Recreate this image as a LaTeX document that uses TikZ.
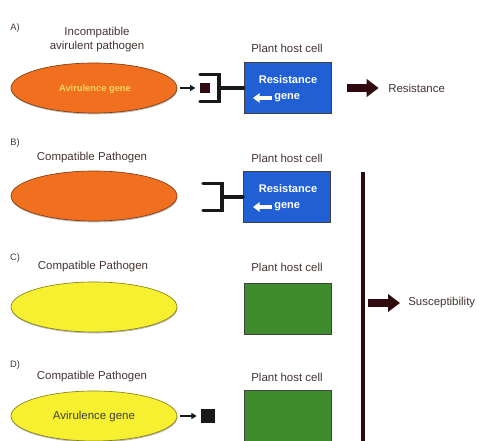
\documentclass[tikz,border=0pt]{standalone}
\usepackage{fontspec}
\setmainfont{Liberation Sans}
\usetikzlibrary{arrows.meta,calc,shapes.geometric,shadows}
\definecolor{pathO}{RGB}{240,112,32}
\definecolor{pathY}{RGB}{246,240,48}
\definecolor{hostB}{RGB}{32,96,212}
\definecolor{hostG}{RGB}{62,140,44}
\definecolor{labT}{RGB}{70,52,52}
\definecolor{darkR}{RGB}{48,10,14}
\definecolor{avrT}{RGB}{246,212,96}

\begin{document}
\begin{tikzpicture}[x=0.75pt,y=-0.75pt,
  lab/.style={font=\fontsize{8.6}{10.5}\selectfont,text=labT,align=center,inner sep=0pt},
  tag/.style={font=\fontsize{7}{8}\selectfont,text=labT,inner sep=0pt},
  pathogen/.style={ellipse,minimum width=124.5pt,minimum height=37.5pt,inner sep=0pt,
     draw=#1!55!black,fill=#1,line width=0.5pt,
     drop shadow={shadow xshift=0.3pt,shadow yshift=-1pt,opacity=0.55}},
  host/.style={rectangle,minimum width=65.25pt,minimum height=38.25pt,inner sep=0pt,
     draw=black!75,fill=#1,line width=0.7pt},
  avr/.style={rectangle,minimum size=#1,inner sep=0pt},
  rtext/.style={font=\fontsize{8.3}{9}\bfseries\selectfont,text=white,inner sep=0pt},
  recep/.style={line width=2.6pt,line cap=round,black!90},
  small arrow/.style={line width=1.5pt,-{Triangle[length=4pt,width=4.5pt]},black!90,shorten <=2pt,shorten >=3pt},
  white arrow/.style={line width=3pt,-{Triangle[length=5pt,width=7pt]},white!92!yellow},
  bigarrow/.style={line width=6pt,-{Triangle[length=9pt,width=13pt]},darkR}]
\useasboundingbox (0,0) rectangle (479,441);
% receptor bracket: #1 name, #2 x of its back, #3 y
\def\receptor#1#2#3{\coordinate (#1) at (#2,#3);
  \draw[recep] ($(#1)+(-19,-13.5)$) -- ($(#1)+(0,-13.5)$) -- ($(#1)+(0,13.5)$) -- ($(#1)+(-19,13.5)$);}
% resistance gene inside a blue host cell: #1 suffix, #2 y of the cell centre
\def\rgene#1#2{\node[rtext] (res#1) at (288,#2-8) {Resistance};
  \node[rtext,anchor=west] (gene#1) at (274,#2+10) {gene};
  \coordinate (w#1) at (253,#2+10);
  \draw[white arrow] (gene#1.west) -- (w#1) [shorten <=1.5pt];}

% A) incompatible pathogen
\node[tag] (tA) at (15,28) {A)};
\node[lab] (nA) at (97,40) {Incompatible\\avirulent pathogen};
\node[pathogen=pathO] (pA) at (94,88) {};
\node[font=\fontsize{7}{8}\bfseries\selectfont,text=avrT] (aA) at (95,89) {Avirulence gene};
\node[avr=8pt,fill=darkR] (sA) at (205,88) {};
\draw[small arrow] (pA.east) -- (sA.west);
\receptor{rA}{219}{88}
\node[lab] (cA) at (287,48) {Plant host cell};
\node[host=hostB] (hA) at (287.5,88) {};
\draw[recep] (rA) -- (hA.west);
\rgene{A}{88}
\coordinate (bA) at (347,88);
\node[lab,anchor=west] (tRes) at (388,88) {Resistance};
\draw[bigarrow] (bA) -- (tRes.west) [shorten >=7pt];

% B) compatible pathogen, no avirulence gene
\node[tag] (tB) at (15,143) {B)};
\node[lab] (nB) at (92,158) {Compatible Pathogen};
\node[pathogen=pathO] (pB) at (94,196) {};
\receptor{rB}{222}{197}
\node[lab] (cB) at (287,158) {Plant host cell};
\node[host=hostB] (hB) at (287,197) {};
\draw[recep] (rB) -- (hB.west);
\rgene{B}{197}

% C) compatible pathogen, host without resistance gene
\node[tag] (tC) at (15,258) {C)};
\node[lab] (nC) at (93,267) {Compatible Pathogen};
\node[pathogen=pathY] (pC) at (94,307) {};
\node[lab] (cC) at (287,267) {Plant host cell};
\node[host=hostG] (hC) at (287.5,309) {};

% D) avirulence gene, host without resistance gene
\node[tag] (tD) at (15,365) {D)};
\node[lab] (nD) at (92,377) {Compatible Pathogen};
\node[pathogen=pathY] (pD) at (94,416) {};
\node[font=\fontsize{8.6}{10}\selectfont,text=black!75] (aD) at (94,417) {Avirulence gene};
\node[avr=10.5pt,fill=black!90] (sD) at (208,416) {};
\draw[small arrow] (pD.east) -- (sD.west);
\node[lab] (cD) at (287,377) {Plant host cell};
\node[host=hostG] (hD) at (287.5,416) {};

% susceptibility for B, C and D
\coordinate (barT) at (363,172); \coordinate (barB) at (363,441);
\draw[line width=3.6pt,darkR] (barT) -- (barB);
\coordinate (barM) at (363,303);
\node[lab,anchor=west] (tSus) at (408,303) {Susceptibility};
\draw[bigarrow] (barM) -- (tSus.west) [shorten <=4pt,shorten >=6pt];
\end{tikzpicture}
\end{document}
